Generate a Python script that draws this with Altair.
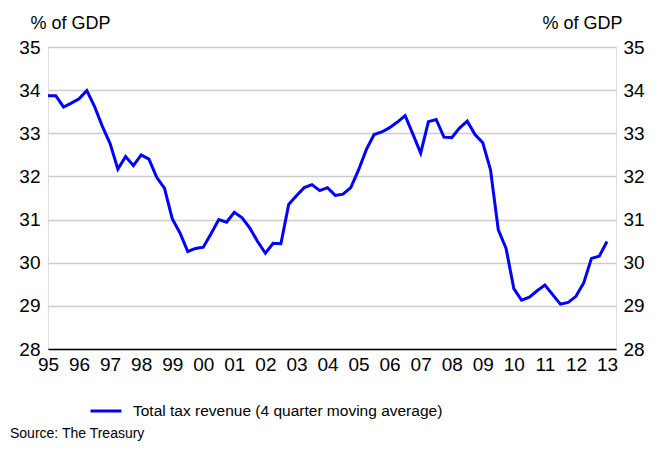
import altair as alt
import pandas as pd

# Quarterly observations, 1995 Q1 .. 2013 Q1 (% of GDP)
values_1995 = [33.87, 33.87, 33.61, 33.70]
values_1996 = [33.80, 33.99, 33.62, 33.16]
values_1997 = [32.76, 32.17, 32.46, 32.25]
values_1998 = [32.50, 32.40, 31.98, 31.73]
values_1999 = [31.02, 30.69, 30.26, 30.33]
values_2000 = [30.36, 30.67, 31.00, 30.94]
values_2001 = [31.17, 31.04, 30.80, 30.49]
values_2002 = [30.22, 30.45, 30.44, 31.35]
values_2003 = [31.55, 31.74, 31.81, 31.67]
values_2004 = [31.74, 31.56, 31.59, 31.74]
values_2005 = [32.15, 32.62, 32.97, 33.03]
values_2006 = [33.13, 33.26, 33.41, 32.98]
values_2007 = [32.54, 33.27, 33.32, 32.91]
values_2008 = [32.90, 33.12, 33.28, 32.97]
values_2009 = [32.78, 32.15, 30.76, 30.33]
values_2010 = [29.40, 29.13, 29.20, 29.35]
values_2011 = [29.48, 29.26, 29.04, 29.08]
values_2012 = [29.22, 29.53, 30.10, 30.15]
values_2013 = [30.49]

tick_years = list(range(1995, 2014))
y_ticks = [28, 29, 30, 31, 32, 33, 34, 35]
series_name = "Total tax revenue (4 quarter moving average)"
source_note = ["Source: The Treasury"]

all_values = (values_1995 + values_1996 + values_1997 + values_1998 + values_1999 +
              values_2000 + values_2001 + values_2002 + values_2003 + values_2004 +
              values_2005 + values_2006 + values_2007 + values_2008 + values_2009 +
              values_2010 + values_2011 + values_2012 + values_2013)
periods = [1995 + i / 4 for i in range(len(all_values))]

df = pd.DataFrame({"period": periods, "value": all_values, "series": series_name})
src_df = pd.DataFrame({"note": source_note})

FONT = "Liberation Sans"

x_enc = alt.X(
    "period:Q",
    scale=alt.Scale(domain=[1995, 2013.29], nice=False, zero=False),
    axis=alt.Axis(
        values=tick_years,
        labelExpr="substring(toString(datum.value), 2, 4)",
        grid=False, ticks=False,
        domainColor="#000000", domainWidth=1.5,
        labelFontSize=19, labelColor="#000000", labelPadding=6,
        labelFont=FONT, labelFlush=False, labelOverlap=False,
        title=None,
    ),
)

y_scale = alt.Scale(domain=[28, 35], nice=False, zero=False)

left = alt.Chart(df).mark_line(strokeWidth=3).encode(
    x=x_enc,
    y=alt.Y(
        "value:Q", scale=y_scale,
        axis=alt.Axis(
            values=y_ticks, orient="left", format="d",
            grid=True, gridColor="#cccccc", gridWidth=1.5,
            domain=False, ticks=False,
            labelFontSize=19, labelColor="#000000", labelPadding=8, labelFont=FONT,
            title="% of GDP", titleAngle=0, titleAlign="left", titleBaseline="alphabetic",
            titleX=-18, titleY=-19, titleFontSize=18, titleFontWeight="normal",
            titleColor="#000000", titleFont=FONT,
        ),
    ),
    color=alt.Color(
        "series:N",
        scale=alt.Scale(range=["#0000ff"]),
        legend=alt.Legend(
            title=None, orient="none", legendX=41, legendY=347,
            symbolType="stroke", symbolSize=961, symbolStrokeWidth=3,
            labelFontSize=15.5, labelColor="#000000", labelFont=FONT,
            labelOffset=10, labelLimit=600,
        ),
    ),
)

right = alt.Chart(df).mark_line(strokeWidth=3, opacity=0).encode(
    x=x_enc,
    y=alt.Y(
        "value:Q", scale=y_scale,
        axis=alt.Axis(
            values=y_ticks, orient="right", format="d",
            grid=False, domain=False, ticks=False,
            labelFontSize=19, labelColor="#000000", labelPadding=7, labelFont=FONT,
            title="% of GDP", titleAngle=0, titleAlign="right", titleBaseline="alphabetic",
            titleX=6, titleY=-19, titleFontSize=18, titleFontWeight="normal",
            titleColor="#000000", titleFont=FONT,
        ),
    ),
)

source = alt.Chart(src_df).mark_text(
    align="left", baseline="alphabetic", fontSize=14, font=FONT, color="#000000",
).encode(
    x=alt.value(-38), y=alt.value(391), text="note:N",
)

chart = alt.layer(left, right, source).resolve_scale(y="independent").properties(
    width=568,
    height=302,
    autosize=alt.AutoSizeParams(type="none"),
    padding={"left": 40, "top": 39, "right": 37, "bottom": 95},
).configure_view(stroke=None).configure(background="white")

chart.save("out.html", embed_options={"renderer": "svg", "actions": False})
